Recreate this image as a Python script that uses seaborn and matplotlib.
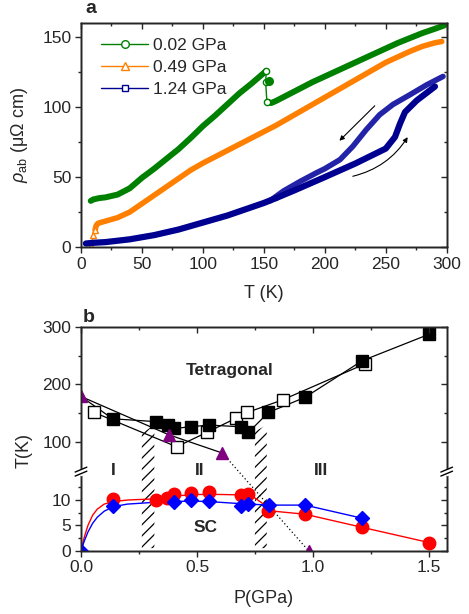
import numpy as np
import matplotlib
matplotlib.use("Agg")
import matplotlib.pyplot as plt
import seaborn as sns
from matplotlib.lines import Line2D

# ---------------- data: panel a ----------------
green_T = [8, 10, 15, 20, 30, 40, 50, 60, 70, 80, 90, 100, 110, 120, 130, 140, 148, 152]
green_R = [33, 34, 35, 35.5, 37.5, 42, 49.5, 56, 63, 70, 78, 86.5, 94, 102, 110, 117, 123, 126]
green2_T = [153, 156, 160, 170, 180, 190, 200, 210, 220, 230, 240, 250, 260, 270, 280, 290, 298]
green2_R = [104, 103, 104.5, 109, 113.5, 118, 122, 126, 130, 134, 138, 142, 146, 149.5, 153, 156, 158.5]
green_jump_T = [152, 151.5, 152.5]
green_jump_R = [126, 118, 104]
green_dot_T = [154]
green_dot_R = [119]

orange_T = [11.5, 12.5, 14, 20, 30, 40, 50, 60, 70, 80, 90, 100, 110, 120, 130, 140, 150,
            160, 170, 180, 190, 200, 210, 220, 230, 240, 250, 260, 270, 280, 290, 296]
orange_R = [12, 15.5, 17, 18.5, 21, 25, 31, 37, 43, 49, 55, 60, 64.5, 69, 73.5, 78, 82.5,
            87, 92, 97, 102, 107, 112, 117, 122, 127, 132, 136, 140, 143.5, 146, 147]
orange_low_T = [8.5, 10, 11.5]
orange_low_R = [0.5, 8.6, 12]

navy_T = [4, 10, 20, 30, 40, 50, 60, 70, 80, 90, 100, 110, 120, 130, 140, 150, 160]
navy_R = [2.5, 3, 3.5, 4.5, 5.5, 7, 8.5, 10.5, 12.5, 15, 17.5, 20, 22.5, 25.5, 28.5, 31.5, 35]
navy_warm_T = [160, 175, 200, 225, 250, 257.6, 261.7, 265.8, 275.4, 290.4]
navy_warm_R = [35, 40.5, 50, 59.7, 70.4, 78.7, 88.2, 96.5, 104.8, 114.8]
navy_cool_T = [297, 283.6, 270, 256, 245, 234, 223, 212.5, 200, 193, 180, 166, 155]
navy_cool_R = [122, 116, 109, 102, 94.6, 83.9, 72, 62.5, 56, 53, 47, 40, 33]

legend_labels = ["0.02 GPa", "0.49 GPa", "1.24 GPa"]

# ---------------- data: panel b ----------------
fill_P = [0, 0.136, 0.322, 0.376, 0.402, 0.472, 0.551, 0.688, 0.721, 0.807, 0.965, 1.212, 1.5]
fill_T = [179, 140, 135, 129, 123, 126, 129, 126, 116, 151, 177.5, 241.7, 288]
open_P = [0.057, 0.412, 0.541, 0.668, 0.716, 0.868, 1.223]
open_T = [151, 91, 116, 141, 151, 173, 236]
tri_P = [0, 0.38, 0.609, 0.98]
tri_T = [179, 111.7, 80, 0]
triline_P = [0, 0.38, 0.609]
triline_T = [179, 111.7, 80]
dotted_P = [0.609, 0.98]
dotted_T = [80, 0]

red_P = [0.136, 0.322, 0.369, 0.402, 0.472, 0.551, 0.688, 0.721, 0.807, 0.965, 1.212, 1.5]
red_T = [10.3, 10.1, 10.5, 11.1, 11.4, 11.6, 11.0, 11.2, 7.9, 7.2, 4.6, 1.6]
redfit_P = [0, 0.015, 0.03, 0.05, 0.07, 0.1, 0.14, 0.2, 0.3, 0.4, 0.5, 0.6, 0.7, 0.74, 0.78, 0.807, 0.965, 1.212, 1.5]
redfit_T = [0, 2.8, 5.0, 7.0, 8.2, 9.2, 9.7, 10.0, 10.2, 10.8, 11.1, 11.1, 11.0, 10.7, 9.4, 7.9, 7.2, 4.6, 1.6]
blue_P = [0, 0.136, 0.402, 0.472, 0.551, 0.688, 0.721, 0.811, 0.965, 1.212]
blue_T = [0, 8.8, 9.6, 10.1, 9.8, 8.8, 9.3, 9.0, 9.0, 6.4]
bluefit_P = [0, 0.015, 0.03, 0.05, 0.07, 0.1, 0.14, 0.2, 0.3, 0.4, 0.472, 0.551, 0.65, 0.721, 0.811, 0.965, 1.212]
bluefit_T = [0, 2.0, 3.7, 5.4, 6.6, 7.8, 8.7, 9.2, 9.5, 9.7, 9.8, 9.7, 9.4, 9.2, 9.0, 9.0, 6.4]

hatch1_P = [0.262, 0.316]
hatch1_T = [115, 129]
hatch2_P = [0.749, 0.80]
hatch2_T = [118, 129]
hatch_bottom = 0.5

region_labels = ["I", "II", "III"]
region_P = [0.139, 0.51, 1.032]

# ---------------- style ----------------
sns.set_style("ticks")
plt.rcParams["font.family"] = ["Liberation Sans", "DejaVu Sans"]
plt.rcParams["mathtext.fontset"] = "custom"
plt.rcParams["mathtext.rm"] = "Liberation Sans"
plt.rcParams["mathtext.it"] = "Liberation Sans:italic"
plt.rcParams["font.size"] = 12
plt.rcParams["hatch.linewidth"] = 0.9
plt.rcParams["axes.linewidth"] = 1.0

GREEN = "#008000"
ORANGE = "#ff8000"
NAVY = "#000090"
NAVY2 = "#2323a8"
PURPLE = "#800080"

fig = plt.figure(figsize=(4.69, 6.14), dpi=100)
axa = fig.add_axes([0.1727, 0.5977, 0.7797, 0.3643])
axb = fig.add_axes([0.1727, 0.1031, 0.7797, 0.3638])


def style_ticks(ax, side):
    if side == "main":
        ax.tick_params(which="both", direction="out", width=1.0, labelsize=12.5, pad=2.5)
    else:
        ax.tick_params(which="both", direction="in", width=1.0,
                       labelleft=False, labelright=False, labeltop=False, labelbottom=False)
    ax.tick_params(which="major", length=4.5)
    ax.tick_params(which="minor", length=2.5)


# ---------------- panel a ----------------
lw = 4.3
sns.lineplot(x=green_T, y=green_R, ax=axa, color=GREEN, lw=lw, sort=False, estimator=None)
sns.lineplot(x=green2_T, y=green2_R, ax=axa, color=GREEN, lw=lw, sort=False, estimator=None)
axa.plot(green_jump_T, green_jump_R, color=GREEN, lw=1.0, marker="o", mfc="white", ms=4.5, mew=1.0)
axa.plot(green_dot_T, green_dot_R, color=GREEN, ls="none", marker="o", ms=5.5)
sns.lineplot(x=orange_T, y=orange_R, ax=axa, color=ORANGE, lw=4.0, sort=False, estimator=None)
axa.plot(orange_low_T, orange_low_R, color=ORANGE, lw=1.0, marker="^", mfc="white", ms=4.5, mew=1.0)
sns.lineplot(x=navy_cool_T, y=navy_cool_R, ax=axa, color=NAVY2, lw=4.0, sort=False, estimator=None)
sns.lineplot(x=navy_T, y=navy_R, ax=axa, color=NAVY, lw=4.5, sort=False, estimator=None)
sns.lineplot(x=navy_warm_T, y=navy_warm_R, ax=axa, color=NAVY, lw=4.5, sort=False, estimator=None)

axa.annotate("", xy=(212, 76), xytext=(241, 101),
             arrowprops=dict(arrowstyle="-|>", lw=0.8, color="black", mutation_scale=7,
                             shrinkA=0, shrinkB=0))
axa.annotate("", xy=(268, 78.6), xytext=(223, 50.6),
             arrowprops=dict(arrowstyle="-|>", lw=0.8, color="black", mutation_scale=7,
                             shrinkA=0, shrinkB=0, connectionstyle="arc3,rad=0.2"))

handles = [
    Line2D([], [], color=GREEN, lw=1.0, marker="o", mfc="white", ms=5.5, mew=1.0),
    Line2D([], [], color=ORANGE, lw=1.0, marker="^", mfc="white", ms=5.5, mew=1.0),
    Line2D([], [], color=NAVY, lw=1.0, marker="s", mfc="white", ms=5, mew=1.0),
]
axa.legend(handles, legend_labels, loc="upper left", bbox_to_anchor=(0.055, 0.935),
           frameon=False, fontsize=12.5, handlelength=2.7, handletextpad=0.3,
           labelspacing=0.4, borderpad=0, borderaxespad=0)

axa.set_xlim(0, 300)
axa.set_ylim(0, 160)
axa.set_xticks([0, 50, 100, 150, 200, 250, 300])
axa.set_xticks([25, 75, 125, 175, 225, 275], minor=True)
axa.set_yticks([0, 50, 100, 150])
axa.set_yticks([25, 75, 125], minor=True)
axa.set_xlabel("T (K)", fontsize=13)
axa.set_ylabel(r"$\rho_{\mathrm{ab}}$ (μΩ cm)", fontsize=13)
axa.xaxis.set_label_coords(0.5, -0.17)
axa.yaxis.set_label_coords(-0.14, 0.5)
style_ticks(axa, "main")

axa_t = axa.twiny()
axa_t.set_xlim(axa.get_xlim())
axa_t.set_xticks(axa.get_xticks())
axa_t.set_xticks([25, 75, 125, 175, 225, 275], minor=True)
style_ticks(axa_t, "twin")
axa_r = axa.twinx()
axa_r.set_ylim(axa.get_ylim())
axa_r.set_yticks([0, 50, 100, 150])
axa_r.set_yticks([25, 75, 125], minor=True)
style_ticks(axa_r, "twin")

# ---------------- panel b: broken y scale ----------------
YB = np.array([0.0, 15.6, 47.6, 300.0])
TB = np.array([0.0, 79.1, 79.2, 223.6])


def fwd(y):
    y = np.asarray(y, dtype=float)
    out = np.interp(y, YB, TB)
    out = np.where(y < 0, y * TB[1] / YB[1], out)
    out = np.where(y > 300, TB[-1] + (y - 300) * 0.572, out)
    return out


def inv(t):
    t = np.asarray(t, dtype=float)
    out = np.interp(t, TB, YB)
    out = np.where(t < 0, t * YB[1] / TB[1], out)
    out = np.where(t > TB[-1], 300 + (t - TB[-1]) / 0.572, out)
    return out


axb.set_yscale("function", functions=(fwd, inv))
axb.set_ylim(0, 300)
axb.set_xlim(0, 1.575)

# hatched bands
for hp, ht in ((hatch1_P, hatch1_T), (hatch2_P, hatch2_T)):
    axb.fill_between(hp, [hatch_bottom, hatch_bottom], ht, facecolor="none",
                     edgecolor="black", hatch="///", linewidth=0, zorder=1)

# lines
kw = dict(ax=axb, sort=False, estimator=None, legend=False)
sns.lineplot(x=fill_P, y=fill_T, color="black", lw=0.9, zorder=2, **kw)
sns.lineplot(x=open_P, y=open_T, color="black", lw=0.9, zorder=2, **kw)
sns.lineplot(x=triline_P, y=triline_T, color="black", lw=0.9, zorder=2, **kw)
axb.plot(dotted_P, dotted_T, color="black", lw=0.9, ls=(0, (1, 2)), zorder=2)
sns.lineplot(x=redfit_P, y=redfit_T, color="red", lw=1.0, zorder=2, **kw)
sns.lineplot(x=bluefit_P, y=bluefit_T, color="blue", lw=1.0, zorder=2, **kw)

# markers
axb.plot(open_P, open_T, ls="none", marker="s", ms=8, mfc="white", mec="black", mew=1.0, zorder=4)
axb.plot(fill_P[1:], fill_T[1:], ls="none", marker="s", ms=8, mfc="black", mec="black", zorder=4)
axb.plot(tri_P, tri_T, ls="none", marker="^", ms=9, mfc=PURPLE, mec=PURPLE, zorder=4)
axb.plot(red_P, red_T, ls="none", marker="o", ms=9, mfc="red", mec="red", zorder=4)
axb.plot(blue_P, blue_T, ls="none", marker="D", ms=7.5, mfc="blue", mec="blue", zorder=5)

# texts
axb.text(0.638, 225, "Tetragonal", ha="center", va="center", fontsize=12.5, fontweight="bold")
axb.text(0.537, 4.6, "SC", ha="center", va="center", fontsize=12.5, fontweight="bold")
for lab, p in zip(region_labels, region_P):
    axb.text(p, 0.359, lab, ha="center", va="center", fontsize=12.5, fontweight="bold",
             transform=axb.get_xaxis_transform())

axb.set_xticks([0, 0.5, 1.0, 1.5], labels=["0.0", "0.5", "1.0", "1.5"])
axb.set_xticks([0.25, 0.75, 1.25], minor=True)
axb.set_yticks([0, 5, 10, 100, 200, 300], labels=["0", "5", "10", "100", "200", "300"])
axb.set_yticks([2.5, 7.5, 12.5, 150, 250], minor=True)
axb.set_xlabel("P(GPa)", fontsize=13)
axb.set_ylabel("T(K)", fontsize=13)
axb.xaxis.set_label_coords(0.5, -0.176)
axb.yaxis.set_label_coords(-0.131, 0.45)
style_ticks(axb, "main")

axb_t = axb.twiny()
axb_t.set_xlim(axb.get_xlim())
axb_t.set_xticks([0, 0.5, 1.0, 1.5])
axb_t.set_xticks([0.25, 0.75, 1.25], minor=True)
style_ticks(axb_t, "twin")
axb_r = axb.twinx()
axb_r.set_yscale("function", functions=(fwd, inv))
axb_r.set_ylim(0, 300)
axb_r.set_yticks([0, 5, 10, 100, 200, 300])
axb_r.set_yticks([2.5, 7.5, 12.5, 150, 250], minor=True)
style_ticks(axb_r, "twin")

# break marks on both spines
ybrk = 0.354
dx, dy, sep = 0.016, 0.011, 0.009
for xs in (0.0, 1.0):
    axb_r.plot([xs, xs], [ybrk - sep, ybrk + sep], transform=axb_r.transAxes,
               color="white", lw=2.5, clip_on=False, zorder=10)
    for off in (-sep, sep):
        axb_r.plot([xs - dx, xs + dx], [ybrk + off - dy, ybrk + off + dy],
                   transform=axb_r.transAxes, color="black", lw=1.0, clip_on=False, zorder=11)

# panel letters
fig.text(85 / 469, 1 - 13 / 614, "a", fontsize=14, fontweight="bold", va="baseline")
fig.text(83 / 469, 1 - 322 / 614, "b", fontsize=14, fontweight="bold", va="baseline")

fig.savefig("out.png", dpi=100)
